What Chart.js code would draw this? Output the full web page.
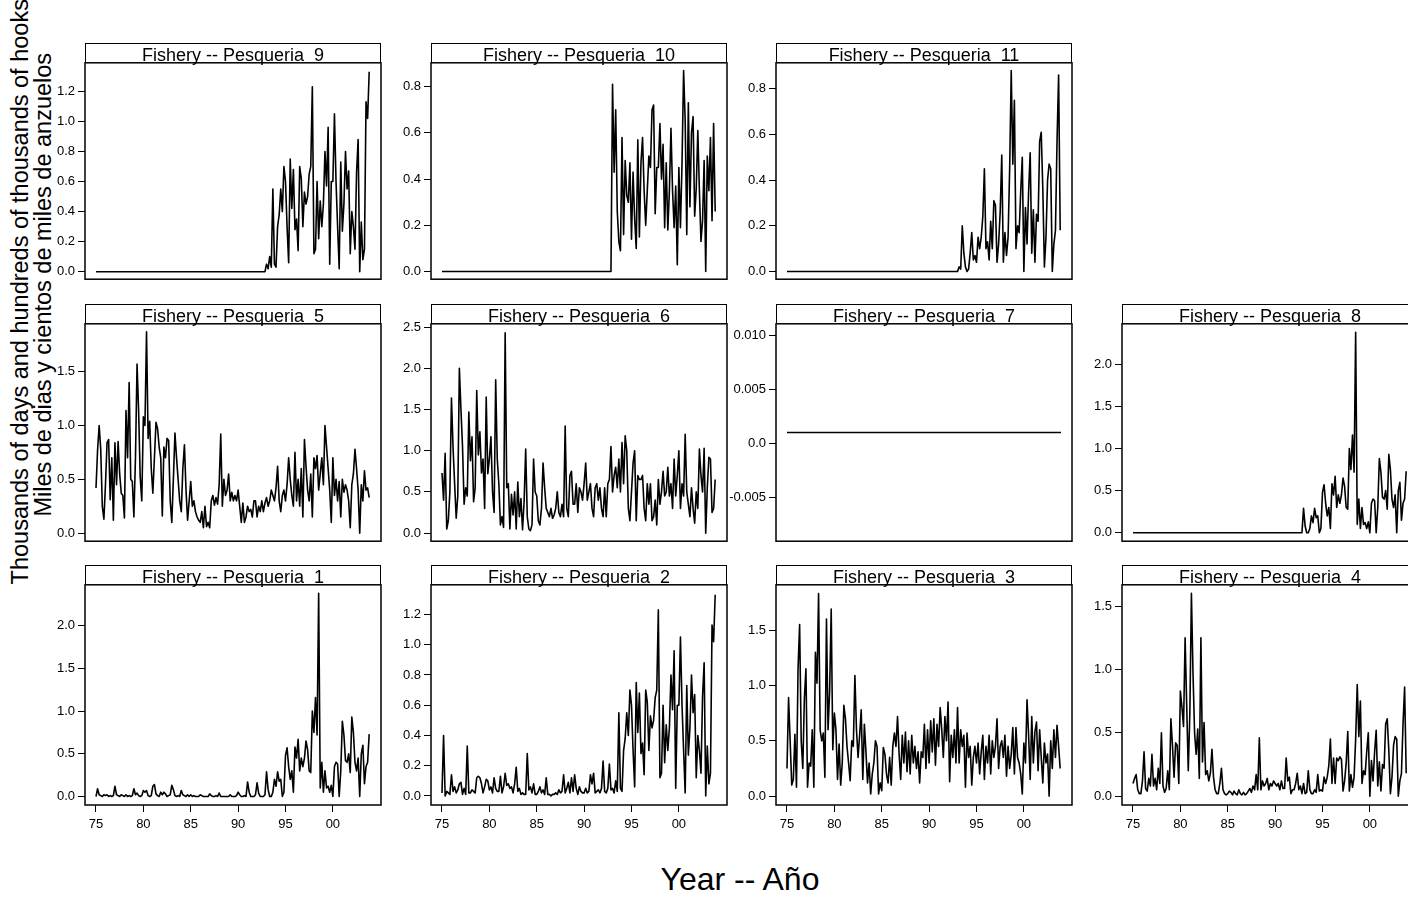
<!DOCTYPE html>
<html lang="en">
<head>
<meta charset="UTF-8">
<title>Fishery effort -- Pesqueria</title>
<script src="https://cdn.jsdelivr.net/npm/chart.js"></script>
<style>
    html, body {
        margin: 0;
        padding: 0;
        width: 1408px;
        height: 897px;
        overflow: hidden;
        background: #fff;
        font-family: 'Liberation Sans', Arial, sans-serif;
        color: #000;
    }
    .panel { position: absolute; }
    .strip {
        position: absolute;
        box-sizing: border-box;
        border: 1.5px solid #000;
        border-bottom: none;
        background: #fff;
    }
    .strip span {
        position: absolute;
        left: 0; right: 0; top: 2px;
        text-align: center;
        font-size: 18px;
        line-height: 18px;
        white-space: pre;
    }
    .ylab {
        position: absolute;
        width: 700px;
        height: 23.5px;
        font-size: 23.5px;
        line-height: 23.5px;
        text-align: center;
        white-space: nowrap;
        transform: rotate(-90deg);
    }
    .xlab {
        position: absolute;
        left: 540px; width: 400px; top: 863px;
        font-size: 32px;
        line-height: 32px;
        text-align: center;
        white-space: nowrap;
    }
</style>
</head>
<body>
<div class="ylab" style="left:-329px; top:280px;">Thousands of days and hundreds of thousands of hooks</div>
<div class="ylab" style="left:-306px; top:273px;">Miles de dias y cientos de miles de anzuelos</div>
<div class="xlab">Year -- Año</div>

<script>
// two-monthly readings, first value at the given start year
const STEP = 1 / 6;
const X_MIN = 1973.84, X_MAX = 2005.08;

const xTicks = [1975, 1980, 1985, 1990, 1995, 2000];
const xLabels = ['75', '80', '85', '90', '95', '00'];

// Pesqueria 1, from 1975
const f1 = [
    0.00, 0.09, 0.02, 0.01, 0.00, 0.02,
    0.01, 0.02, 0.00, 0.01, 0.00, 0.01,
    0.12, 0.02, 0.01, 0.00, 0.02, 0.01,
    0.00, 0.02, 0.00, 0.01, 0.00, 0.01,
    0.09, 0.02, 0.04, 0.01, 0.00, 0.01,
    0.07, 0.05, 0.07, 0.01, 0.00, 0.01,
    0.12, 0.14, 0.03, 0.01, 0.00, 0.05,
    0.02, 0.05, 0.03, 0.00, 0.01, 0.02,
    0.13, 0.08, 0.01, 0.00, 0.01, 0.00,
    0.07, 0.02, 0.01, 0.00, 0.02, 0.00,
    0.02, 0.00, 0.01, 0.00, 0.00, 0.00,
    0.02, 0.01, 0.00, 0.00, 0.00, 0.00,
    0.03, 0.01, 0.00, 0.00, 0.01, 0.00,
    0.04, 0.00, 0.00, 0.00, 0.00, 0.00,
    0.00, 0.02, 0.00, 0.00, 0.00, 0.01,
    0.05, 0.02, 0.00, 0.00, 0.01, 0.00,
    0.17, 0.05, 0.00, 0.00, 0.00, 0.02,
    0.16, 0.04, 0.00, 0.00, 0.00, 0.02,
    0.29, 0.08, 0.00, 0.00, 0.05, 0.20,
    0.12, 0.29, 0.18, 0.20, 0.00, 0.05,
    0.48, 0.57, 0.35, 0.20, 0.30, 0.05,
    0.58, 0.45, 0.67, 0.30, 0.45, 0.35,
    0.45, 0.65, 0.55, 0.30, 0.28, 1.00,
    0.75, 1.16, 0.72, 2.38, 0.10, 0.40,
    0.05, 0.30, 0.10, 0.12, 0.05, 0.13,
    0.00, 0.35, 0.40, 0.38, 0.00, 0.30,
    0.88, 0.72, 0.42, 0.40, 0.50, 0.28,
    0.93, 0.75, 0.40, 0.30, 0.45, 0.00,
    0.50, 0.60, 0.15, 0.35, 0.40, 0.73
];

// Pesqueria 2, from 1975
const f2 = [
    0.02, 0.40, 0.00, 0.03, 0.02, 0.01,
    0.14, 0.03, 0.06, 0.02, 0.04, 0.08,
    0.09, 0.01, 0.05, 0.01, 0.33, 0.02,
    0.02, 0.04, 0.03, 0.02, 0.12, 0.13,
    0.12, 0.08, 0.02, 0.06, 0.11, 0.10,
    0.04, 0.06, 0.02, 0.12, 0.05, 0.03,
    0.03, 0.13, 0.02, 0.06, 0.15, 0.07,
    0.08, 0.05, 0.06, 0.02, 0.08, 0.19,
    0.03, 0.05, 0.01, 0.02, 0.01, 0.01,
    0.28, 0.04, 0.06, 0.02, 0.08, 0.01,
    0.01, 0.03, 0.06, 0.02, 0.04, 0.01,
    0.12, 0.01, 0.01, 0.00, 0.01, 0.01,
    0.02, 0.01, 0.04, 0.02, 0.03, 0.14,
    0.02, 0.05, 0.09, 0.02, 0.12, 0.03,
    0.14, 0.05, 0.01, 0.06, 0.03, 0.02,
    0.02, 0.05, 0.02, 0.03, 0.14, 0.08,
    0.15, 0.02, 0.03, 0.04, 0.02, 0.05,
    0.23, 0.03, 0.02, 0.05, 0.21, 0.04,
    0.05, 0.02, 0.10, 0.03, 0.55, 0.05,
    0.03, 0.30, 0.38, 0.55, 0.40, 0.70,
    0.60, 0.30, 0.06, 0.75, 0.42, 0.68,
    0.28, 0.35, 0.14, 0.70, 0.62, 0.30,
    0.53, 0.45, 0.50, 0.65, 0.70, 1.23,
    0.12, 0.15, 0.60, 0.22, 0.47, 0.30,
    0.45, 0.80, 0.57, 0.96, 0.05, 0.60,
    0.60, 1.05, 0.60, 0.30, 0.02, 0.73,
    0.27, 0.45, 0.80, 0.55, 0.67, 0.12,
    0.40, 0.30, 0.15, 0.66, 0.88, 0.00,
    0.33, 0.08, 0.15, 1.13, 1.02, 1.33
];

// Pesqueria 3, from 1975
const f3 = [
    0.25, 0.89, 0.50, 0.10, 0.15, 0.56,
    0.08, 1.15, 1.55, 0.50, 0.25, 0.88,
    1.15, 0.08, 0.30, 0.27, 0.60, 0.08,
    1.30, 1.02, 1.83, 0.60, 0.50, 0.57,
    0.17, 1.60, 0.60, 0.95, 1.69, 0.42,
    0.75, 0.60, 0.15, 0.47, 0.10, 0.30,
    0.82, 0.70, 0.45, 0.30, 0.14, 0.50,
    0.45, 1.09, 0.60, 0.35, 0.55, 0.78,
    0.15, 0.65, 0.40, 0.12, 0.30, 0.02,
    0.20, 0.30, 0.50, 0.45, 0.02, 0.12,
    0.05, 0.44, 0.38, 0.20, 0.12, 0.35,
    0.10, 0.45, 0.57, 0.45, 0.72, 0.38,
    0.15, 0.55, 0.30, 0.58, 0.22, 0.50,
    0.20, 0.55, 0.30, 0.45, 0.25, 0.40,
    0.12, 0.40, 0.35, 0.65, 0.25, 0.60,
    0.30, 0.68, 0.40, 0.70, 0.28, 0.65,
    0.45, 0.80, 0.60, 0.35, 0.72, 0.50,
    0.85, 0.13, 0.55, 0.35, 0.60, 0.30,
    0.80, 0.30, 0.60, 0.45, 0.55, 0.08,
    0.57, 0.35, 0.45, 0.10, 0.35, 0.45,
    0.30, 0.48, 0.20, 0.40, 0.55, 0.15,
    0.45, 0.30, 0.55, 0.20, 0.50, 0.35,
    0.45, 0.70, 0.25, 0.45, 0.50, 0.35,
    0.55, 0.18, 0.45, 0.25, 0.38, 0.62,
    0.20, 0.62, 0.35, 0.30, 0.20, 0.02,
    0.48, 0.30, 0.87, 0.55, 0.15, 0.72,
    0.30, 0.58, 0.67, 0.23, 0.60, 0.35,
    0.12, 0.48, 0.30, 0.38, 0.00, 0.50,
    0.25, 0.60, 0.35, 0.64, 0.45, 0.25
];

// Pesqueria 4, from 1975
const f4 = [
    0.10, 0.14, 0.17, 0.05, 0.02, 0.02,
    0.12, 0.35, 0.06, 0.04, 0.14, 0.08,
    0.33, 0.08, 0.14, 0.05, 0.22, 0.10,
    0.50, 0.08, 0.03, 0.06, 0.20, 0.05,
    0.61, 0.40, 0.15, 0.42, 0.40, 0.10,
    0.83, 0.70, 0.55, 1.25, 0.72, 0.20,
    0.65, 1.60, 0.97, 0.50, 0.33, 0.53,
    0.14, 1.25, 0.27, 0.58, 0.17, 0.20,
    0.12, 0.18, 0.37, 0.15, 0.05, 0.02,
    0.02, 0.10, 0.22, 0.05, 0.02, 0.01,
    0.02, 0.04, 0.03, 0.01, 0.04, 0.02,
    0.01, 0.05, 0.02, 0.01, 0.03, 0.01,
    0.02, 0.04, 0.06, 0.03, 0.08, 0.05,
    0.17, 0.05, 0.46, 0.05, 0.12, 0.08,
    0.10, 0.14, 0.05, 0.10, 0.08, 0.12,
    0.10, 0.08, 0.10, 0.05, 0.12, 0.06,
    0.06, 0.30, 0.12, 0.15, 0.02, 0.05,
    0.05, 0.10, 0.18, 0.05, 0.08, 0.02,
    0.10, 0.02, 0.03, 0.20, 0.05, 0.02,
    0.02, 0.05, 0.03, 0.17, 0.04, 0.05,
    0.04, 0.15, 0.10, 0.15, 0.24, 0.45,
    0.10, 0.30, 0.10, 0.30, 0.28, 0.31,
    0.29, 0.04, 0.12, 0.26, 0.51, 0.04,
    0.17, 0.07, 0.15, 0.45, 0.88, 0.47,
    0.75, 0.10, 0.20, 0.17, 0.35, 0.50,
    0.00, 0.28, 0.12, 0.35, 0.52, 0.08,
    0.27, 0.04, 0.25, 0.22, 0.57, 0.61,
    0.36, 0.02, 0.15, 0.40, 0.47, 0.45,
    0.00, 0.12, 0.18, 0.57, 0.86, 0.18
];

// Pesqueria 5, from 1975
const f5 = [
    0.42, 0.77, 1.00, 0.78, 0.25, 0.13,
    0.45, 0.84, 0.87, 0.31, 0.70, 0.12,
    0.84, 0.45, 0.85, 0.55, 0.37, 0.35,
    0.14, 1.14, 0.70, 1.40, 0.50, 0.48,
    0.15, 0.70, 1.57, 1.13, 0.52, 0.30,
    1.08, 1.00, 1.87, 0.88, 1.04, 0.60,
    0.37, 0.70, 1.03, 0.97, 0.80, 0.70,
    0.16, 0.80, 0.70, 0.88, 0.86, 0.30,
    0.10, 0.50, 0.93, 0.70, 0.50, 0.30,
    0.20, 0.60, 0.82, 0.40, 0.12, 0.30,
    0.48, 0.25, 0.30, 0.20, 0.15, 0.12,
    0.10, 0.20, 0.05, 0.25, 0.06, 0.10,
    0.05, 0.30, 0.35, 0.26, 0.33, 0.27,
    0.45, 0.92, 0.25, 0.50, 0.35, 0.40,
    0.55, 0.30, 0.38, 0.30, 0.35, 0.30,
    0.40, 0.25, 0.10, 0.28, 0.10, 0.15,
    0.25, 0.20, 0.22, 0.15, 0.30, 0.30,
    0.15, 0.25, 0.20, 0.30, 0.20, 0.28,
    0.33, 0.25, 0.30, 0.40, 0.35, 0.30,
    0.42, 0.62, 0.30, 0.20, 0.35, 0.40,
    0.30, 0.45, 0.70, 0.50, 0.35, 0.25,
    0.75, 0.30, 0.50, 0.25, 0.60, 0.15,
    0.87, 0.62, 0.40, 0.30, 0.55, 0.15,
    0.70, 0.60, 0.72, 0.40, 0.55, 0.70,
    0.45, 1.00, 0.80, 0.60, 0.40, 0.10,
    0.70, 0.35, 0.50, 0.30, 0.48, 0.15,
    0.50, 0.38, 0.45, 0.40, 0.30, 0.05,
    0.45, 0.55, 0.78, 0.60, 0.40, 0.00,
    0.45, 0.30, 0.58, 0.40, 0.42, 0.33
];

// Pesqueria 6, from 1975
const f6 = [
    0.73, 0.40, 0.97, 0.05, 0.15, 0.50,
    1.64, 1.04, 0.60, 0.18, 0.45, 2.00,
    1.50, 1.05, 0.35, 0.55, 0.45, 1.47,
    0.88, 1.17, 0.38, 0.55, 1.73, 0.95,
    1.23, 0.73, 0.90, 0.30, 1.65, 0.72,
    0.90, 1.17, 0.50, 0.25, 1.86, 0.90,
    0.60, 0.10, 0.20, 0.07, 2.43, 0.55,
    0.60, 0.05, 0.47, 0.22, 0.50, 0.05,
    0.62, 0.20, 0.42, 0.04, 0.38, 1.02,
    0.20, 0.05, 0.03, 0.10, 0.90, 0.50,
    0.45, 0.15, 0.10, 0.30, 0.85, 0.55,
    0.30, 0.25, 0.20, 0.30, 0.18, 0.22,
    0.30, 0.50, 0.25, 0.20, 0.35, 0.20,
    1.30, 0.30, 0.20, 0.70, 0.75, 0.35,
    0.35, 0.60, 0.25, 0.55, 0.50, 0.40,
    0.60, 0.85, 0.40, 0.50, 0.60, 0.30,
    0.20, 0.55, 0.60, 0.40, 0.55, 0.30,
    0.20, 0.55, 0.20, 0.60, 0.65, 1.05,
    0.50, 0.70, 0.80, 0.55, 0.90, 0.50,
    1.10, 0.60, 1.18, 1.00, 0.30, 0.15,
    0.50, 0.85, 1.00, 0.15, 0.70, 0.65,
    0.65, 0.70, 0.30, 0.15, 0.60, 0.35,
    0.60, 0.15, 0.20, 0.40, 0.10, 0.65,
    0.35, 0.50, 0.75, 0.45, 0.50, 0.80,
    0.45, 0.60, 0.30, 0.90, 0.45, 0.70,
    1.00, 0.30, 0.60, 0.45, 1.20, 0.50,
    0.35, 0.20, 0.55, 0.30, 0.12, 0.50,
    0.30, 1.02, 0.70, 0.50, 1.03, 0.00,
    0.55, 0.92, 0.90, 0.25, 0.30, 0.65
];

// Pesqueria 7, flat over the whole period
const f7Years = [1975, 2003 + 11 / 12];
const f7 = [0.001, 0.001];

// Pesqueria 8, zero until late 1992
const f8 = [
    0.00,
    0.29, 0.08, 0.00, 0.00, 0.05, 0.20,
    0.12, 0.29, 0.18, 0.20, 0.00, 0.05,
    0.48, 0.57, 0.35, 0.20, 0.30, 0.05,
    0.58, 0.45, 0.67, 0.30, 0.45, 0.35,
    0.45, 0.65, 0.55, 0.30, 0.28, 1.00,
    0.75, 1.16, 0.72, 2.38, 0.10, 0.40,
    0.05, 0.30, 0.10, 0.12, 0.05, 0.13,
    0.00, 0.35, 0.40, 0.38, 0.00, 0.30,
    0.88, 0.72, 0.42, 0.40, 0.50, 0.28,
    0.93, 0.75, 0.40, 0.30, 0.45, 0.00,
    0.50, 0.60, 0.15, 0.35, 0.40, 0.73
];

// Pesqueria 9, zero until late 1992
const f9 = [
    0.00,
    0.05, 0.02, 0.10, 0.03, 0.55, 0.05,
    0.03, 0.30, 0.38, 0.55, 0.40, 0.70,
    0.60, 0.30, 0.06, 0.75, 0.42, 0.68,
    0.28, 0.35, 0.14, 0.70, 0.62, 0.30,
    0.53, 0.45, 0.50, 0.65, 0.70, 1.23,
    0.12, 0.15, 0.60, 0.22, 0.47, 0.30,
    0.45, 0.80, 0.57, 0.96, 0.05, 0.60,
    0.60, 1.05, 0.60, 0.30, 0.02, 0.73,
    0.27, 0.45, 0.80, 0.55, 0.67, 0.12,
    0.40, 0.30, 0.15, 0.66, 0.88, 0.00,
    0.33, 0.08, 0.15, 1.13, 1.02, 1.33
];

// Pesqueria 10, zero until late 1992
const f10 = [
    0.00,
    0.81, 0.43, 0.70, 0.26, 0.13, 0.09,
    0.58, 0.16, 0.48, 0.33, 0.30, 0.47,
    0.14, 0.43, 0.23, 0.10, 0.57, 0.15,
    0.47, 0.58, 0.35, 0.20, 0.35, 0.50,
    0.45, 0.70, 0.72, 0.25, 0.45, 0.45,
    0.64, 0.40, 0.55, 0.19, 0.47, 0.18,
    0.35, 0.62, 0.35, 0.19, 0.37, 0.03,
    0.45, 0.19, 0.47, 0.87, 0.65, 0.16,
    0.73, 0.28, 0.60, 0.67, 0.24, 0.36,
    0.61, 0.35, 0.13, 0.22, 0.48, 0.00,
    0.50, 0.35, 0.58, 0.22, 0.64, 0.26
];

// Pesqueria 11, zero until late 1992
const f11 = [
    0.00,
    0.00, 0.02, 0.01, 0.20, 0.08, 0.02,
    0.00, 0.01, 0.08, 0.17, 0.05, 0.07,
    0.04, 0.15, 0.10, 0.15, 0.24, 0.45,
    0.10, 0.13, 0.05, 0.22, 0.10, 0.31,
    0.29, 0.04, 0.12, 0.26, 0.51, 0.04,
    0.17, 0.07, 0.15, 0.45, 0.88, 0.47,
    0.75, 0.10, 0.20, 0.17, 0.35, 0.50,
    0.00, 0.28, 0.12, 0.35, 0.52, 0.08,
    0.27, 0.04, 0.25, 0.22, 0.57, 0.61,
    0.36, 0.02, 0.15, 0.40, 0.47, 0.45,
    0.00, 0.12, 0.18, 0.57, 0.86, 0.18
];

// y tick values and their printed labels
const ticks02 = [0, 0.2, 0.4, 0.6, 0.8, 1.0, 1.2];
const labels02 = ['0.0', '0.2', '0.4', '0.6', '0.8', '1.0', '1.2'];
const ticks05 = [0, 0.5, 1.0, 1.5, 2.0, 2.5];
const labels05 = ['0.0', '0.5', '1.0', '1.5', '2.0', '2.5'];
const ticks7 = [-0.005, 0, 0.005, 0.010];
const labels7 = ['-0.005', '0.0', '0.005', '0.010'];

// lattice layout
const colLeft = [85, 431, 776, 1122];
const boxWidth = 296;
const stripTop = [43, 304, 565];
const stripBottom = [62, 323, 584];
const plotBottom = [280, 542, 805];

const LATE_92 = 1992 + 5 / 6;

const panels = [
    { name: '9',  row: 0, col: 0, start: LATE_92, values: f9,  yMin: -0.05,  yMax: 1.39,  nTicks: 7 },
    { name: '10', row: 0, col: 1, start: LATE_92, values: f10, yMin: -0.033, yMax: 0.903, nTicks: 5 },
    { name: '11', row: 0, col: 2, start: LATE_92, values: f11, yMin: -0.034, yMax: 0.914, nTicks: 5 },
    { name: '5',  row: 1, col: 0, start: 1975, values: f5, yMin: -0.075, yMax: 1.945, step5: true, nTicks: 4 },
    { name: '6',  row: 1, col: 1, start: 1975, values: f6, yMin: -0.098, yMax: 2.54,  step5: true, nTicks: 6 },
    { name: '7',  row: 1, col: 2, years: f7Years, values: f7, yMin: -0.0091, yMax: 0.0111 },
    { name: '8',  row: 1, col: 3, start: LATE_92, values: f8, yMin: -0.1, yMax: 2.48, step5: true, nTicks: 5 },
    { name: '1',  row: 2, col: 0, start: 1975, values: f1, yMin: -0.1, yMax: 2.48, step5: true, nTicks: 5 },
    { name: '2',  row: 2, col: 1, start: 1975, values: f2, yMin: -0.06, yMax: 1.396, nTicks: 7 },
    { name: '3',  row: 2, col: 2, start: 1975, values: f3, yMin: -0.08, yMax: 1.91, step5: true, nTicks: 4 },
    { name: '4',  row: 2, col: 3, start: 1975, values: f4, yMin: -0.07, yMax: 1.668, step5: true, nTicks: 4 }
];

const tickFont = { family: "'Liberation Sans', Arial, sans-serif", size: 13 };

const frame = {
    id: 'frame',
    afterDraw(chart) {
        const { ctx, chartArea: a } = chart;
        ctx.save();
        ctx.strokeStyle = '#000';
        ctx.lineWidth = 1.5;
        ctx.strokeRect(a.left, a.top, a.right - a.left, a.bottom - a.top);
        ctx.restore();
    }
};

function seriesPoints(p) {
    if (p.years) return p.years.map((yr, i) => ({ x: yr, y: p.values[i] }));
    const pts = [];
    if (p.start > 1975) pts.push({ x: 1975, y: 0 });
    p.values.forEach((v, i) => pts.push({ x: p.start + i * STEP, y: v }));
    return pts;
}

panels.forEach(p => {
    // L: room for y labels, P: top/bottom pad (must exceed half a label height), B: x label band
    const L = 60, P = 10, R = 2, B = 40;
    const bottom = p.row === 2;
    const top = stripBottom[p.row];
    const h = plotBottom[p.row] - top;

    let yTicks, yLabels;
    if (p.name === '7') { yTicks = ticks7; yLabels = labels7; }
    else if (p.step5) { yTicks = ticks05.slice(0, p.nTicks); yLabels = labels05.slice(0, p.nTicks); }
    else { yTicks = ticks02.slice(0, p.nTicks); yLabels = labels02.slice(0, p.nTicks); }

    const box = document.createElement('div');
    box.className = 'panel';
    box.style.left = (colLeft[p.col] - L) + 'px';
    box.style.top = (top - P) + 'px';
    box.style.width = (L + boxWidth + R) + 'px';
    box.style.height = (P + h + (bottom ? B : P)) + 'px';
    const canvas = document.createElement('canvas');
    box.appendChild(canvas);
    document.body.appendChild(box);

    const strip = document.createElement('div');
    strip.className = 'strip';
    strip.style.left = colLeft[p.col] + 'px';
    strip.style.top = stripTop[p.row] + 'px';
    strip.style.width = boxWidth + 'px';
    strip.style.height = (stripBottom[p.row] - stripTop[p.row]) + 'px';
    const label = document.createElement('span');
    label.textContent = 'Fishery -- Pesqueria  ' + p.name;
    strip.appendChild(label);
    document.body.appendChild(strip);

    new Chart(canvas, {
        type: 'line',
        data: {
            datasets: [{
                data: seriesPoints(p),
                borderColor: '#000',
                borderWidth: 1.6,
                borderJoinStyle: 'round',
                pointRadius: 0,
                tension: 0,
                fill: false
            }]
        },
        options: {
            responsive: true,
            maintainAspectRatio: false,
            animation: false,
            events: [],
            layout: { padding: { top: P, right: R, bottom: bottom ? 0 : P, left: 0 } },
            plugins: { legend: { display: false }, tooltip: { enabled: false } },
            scales: {
                x: {
                    type: 'linear',
                    min: X_MIN,
                    max: X_MAX,
                    display: bottom,
                    afterBuildTicks: a => { a.ticks = xTicks.map(v => ({ value: v })); },
                    afterFit: a => { a.height = bottom ? B : 0; },
                    grid: { drawOnChartArea: false, tickLength: 7, color: '#000', lineWidth: 1 },
                    border: { display: false },
                    ticks: {
                        autoSkip: false, maxRotation: 0, padding: 5,
                        color: '#000', font: tickFont,
                        callback: (v, i) => xLabels[i]
                    }
                },
                y: {
                    type: 'linear',
                    min: p.yMin,
                    max: p.yMax,
                    afterBuildTicks: a => { a.ticks = yTicks.map(v => ({ value: v })); },
                    afterFit: a => { a.width = L; },
                    grid: { drawOnChartArea: false, tickLength: 7, color: '#000', lineWidth: 1 },
                    border: { display: false },
                    ticks: {
                        autoSkip: false, padding: 3,
                        color: '#000', font: tickFont,
                        callback: (v, i) => yLabels[i]
                    }
                }
            }
        },
        plugins: [frame]
    });
});
</script>
</body>
</html>
